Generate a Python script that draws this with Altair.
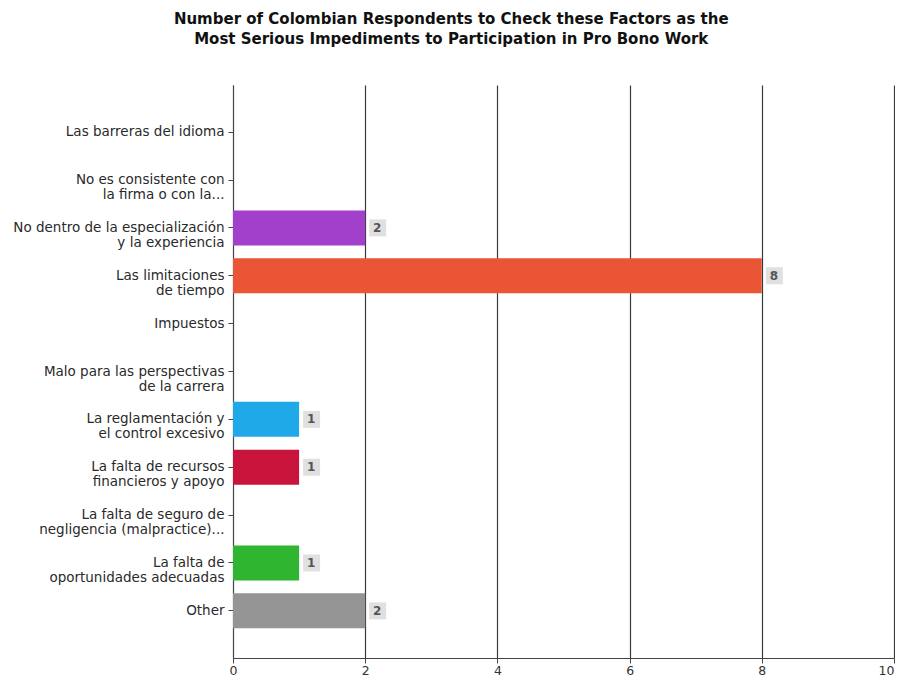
import altair as alt
import pandas as pd

categories = [
    "Las barreras del idioma",
    "No es consistente con|la firma o con la...",
    "No dentro de la especialización|y la experiencia",
    "Las limitaciones|de tiempo",
    "Impuestos",
    "Malo para las perspectivas|de la carrera",
    "La reglamentación y|el control excesivo",
    "La falta de recursos|financieros y apoyo",
    "La falta de seguro de|negligencia (malpractice)...",
    "La falta de|oportunidades adecuadas",
    "Other",
]
counts = [0, 0, 2, 8, 0, 0, 1, 1, 0, 1, 2]
colors = ["#888888", "#888888", "#a23fcb", "#ea5535", "#888888", "#888888",
          "#1fa9e8", "#c8143a", "#888888", "#2fb52f", "#959595"]
x_ticks = [0, 2, 4, 6, 8, 10]

df = pd.DataFrame({"cat": categories, "count": counts, "color": colors})

y_enc = alt.Y(
    "cat:N", sort=categories, title=None,
    scale=alt.Scale(paddingInner=0.27, paddingOuter=0.62),
    axis=alt.Axis(
        labelExpr="split(datum.value, '|')",
        labelFont="DejaVu Sans", labelFontSize=13.5, labelColor="#2a2a2a",
        labelLineHeight=15, labelPadding=4, tickSize=5, tickColor="#444444",
        domainColor="#444444", grid=False, minExtent=225, labelLimit=300,
    ),
)

x_enc = alt.X(
    "count:Q", title=None,
    scale=alt.Scale(domain=[0, 10], nice=False),
    axis=alt.Axis(
        values=x_ticks, format="d", labelFlush=False, grid=True,
        labelAlign=alt.condition("datum.value == 10", alt.value("right"), alt.value("center")),
        gridColor="#3a3a3a", gridWidth=1.2, gridOpacity=1,
        labelFont="DejaVu Sans", labelFontSize=12.5, labelColor="#333333",
        tickSize=5, tickColor="#444444", domainColor="#444444", labelPadding=1,
    ),
)

base = alt.Chart(df)

bars = base.mark_bar(height=35).encode(
    x=x_enc, y=y_enc, color=alt.Color("color:N", scale=None)
)

nz = base.transform_filter("datum.count > 0")

boxes = nz.mark_bar(height=17, color="#e0e0e0", xOffset=4, x2Offset=21).encode(
    x="count:Q", x2="count:Q", y=alt.Y("cat:N", sort=categories)
)

texts = nz.mark_text(
    dx=12, align="center", baseline="middle", fontWeight="bold",
    font="DejaVu Sans", fontSize=12, color="#555555"
).encode(
    x="count:Q", y=alt.Y("cat:N", sort=categories), text="count:Q"
)

chart = (bars + boxes + texts).properties(
    width=887, height=669,
    padding={"left": 0, "right": 0, "top": 4, "bottom": 0},
    background="white",
    autosize=alt.AutoSizeParams(type="fit", contains="padding"),
    title=alt.TitleParams(
        text=["Number of Colombian Respondents to Check these Factors as the",
              "Most Serious Impediments to Participation in Pro Bono Work"],
        font="DejaVu Sans", fontSize=15, fontWeight="bold", color="#111111",
        anchor="middle", frame="bounds", offset=38, lineHeight=20,
    ),
).configure_view(stroke="transparent", strokeWidth=0)

chart.save("out.html", embed_options={"renderer": "svg", "actions": False})
